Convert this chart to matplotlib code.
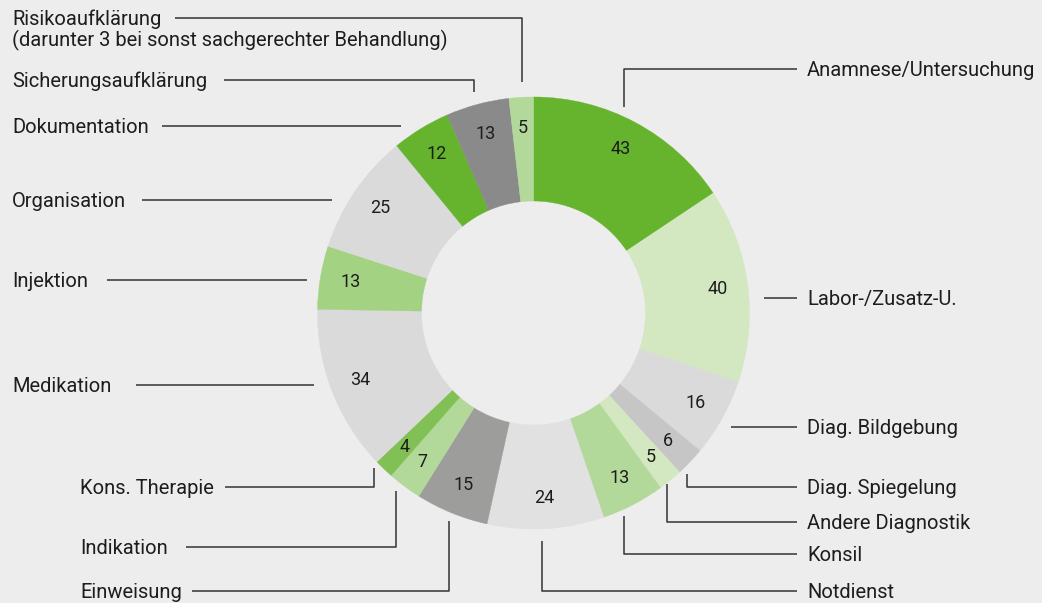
import matplotlib
matplotlib.use("Agg")
import matplotlib.pyplot as plt

# counts per category, clockwise from 12 o'clock
categories = ["Anamnese/Untersuchung", "Labor-/Zusatz-U.", "Diag. Bildgebung",
              "Diag. Spiegelung", "Andere Diagnostik", "Konsil", "Notdienst",
              "Einweisung", "Indikation", "Kons. Therapie", "Medikation",
              "Injektion", "Organisation", "Dokumentation",
              "Sicherungsaufklärung",
              "Risikoaufklärung\n(darunter 3 bei sonst sachgerechter Behandlung)"]
counts = [43, 40, 16, 6, 5, 13, 24, 15, 7, 4, 34, 13, 25, 12, 13, 5]
colors = ["#66b32e", "#d3e8c0", "#dadada", "#c6c6c6", "#d3e8c0", "#b3d99a",
          "#e1e1e1", "#9d9d9c", "#b3d99a", "#80c055", "#dadada", "#a3d283",
          "#dadada", "#66b32e", "#8a8a8a", "#b3d99a"]

# layout (pixel coordinates, y from top)
W, H = 1042, 603
center = (533.5, 313)
r_out, r_in = 216, 112
# leader line paths, first point near the ring, last point next to the text
leaders = [
    [(624, 107), (624, 69), (797, 69)],
    [(764, 298), (797, 298)],
    [(731, 427), (797, 427)],
    [(687, 474), (687, 487), (797, 487)],
    [(667, 484), (667, 522), (797, 522)],
    [(624, 516), (624, 554), (797, 554)],
    [(542, 541), (542, 591), (797, 591)],
    [(449, 521), (449, 591), (192, 591)],
    [(396, 491), (396, 547), (186, 547)],
    [(374, 468), (374, 487), (225, 487)],
    [(314, 385), (136, 385)],
    [(307, 280), (107, 280)],
    [(332, 200), (142, 200)],
    [(401, 126), (162, 126)],
    [(474, 92), (474, 80), (224, 80)],
    [(522, 82), (522, 18), (175, 18)],
]
text_x = [807, 807, 807, 807, 807, 807, 807, 80, 80, 80, 12, 12, 12, 12, 12, 12]

bg = "#ededed"
ink = "#1d1d1b"
plt.rcParams['font.family'] = ['Roboto', 'DejaVu Sans']

fig = plt.figure(figsize=(W / 100, H / 100), dpi=100, facecolor=bg)
ax = fig.add_axes([0, 0, 1, 1])
ax.set_facecolor(bg)

total = sum(counts)
# y axis is inverted below, so counterclock=True turns visually clockwise
wedges, _, autotexts = ax.pie(
    counts, colors=colors, center=center, radius=r_out,
    startangle=-90, counterclock=True,
    autopct=lambda p: f"{round(p * total / 100):d}", pctdistance=0.86,
    wedgeprops=dict(width=r_out - r_in, linewidth=0.3),
    textprops=dict(fontsize=13, color=ink),
)
for w, c in zip(wedges, colors):
    w.set_edgecolor(c)

for path, name, tx in zip(leaders, categories, text_x):
    xs = [p[0] for p in path]
    ys = [p[1] for p in path]
    ax.plot(xs, ys, color="#333333", lw=1.1, solid_capstyle="butt")
    base = path[-1][1] + 7
    for i, line in enumerate(name.split("\n")):
        ax.text(tx, base + i * 21.6, line, fontsize=14.5, color=ink,
                ha="left", va="baseline")

ax.set_xlim(0, W)
ax.set_ylim(H, 0)
ax.set_aspect("equal")
ax.axis("off")

fig.savefig("out.png", dpi=100, facecolor=bg)
